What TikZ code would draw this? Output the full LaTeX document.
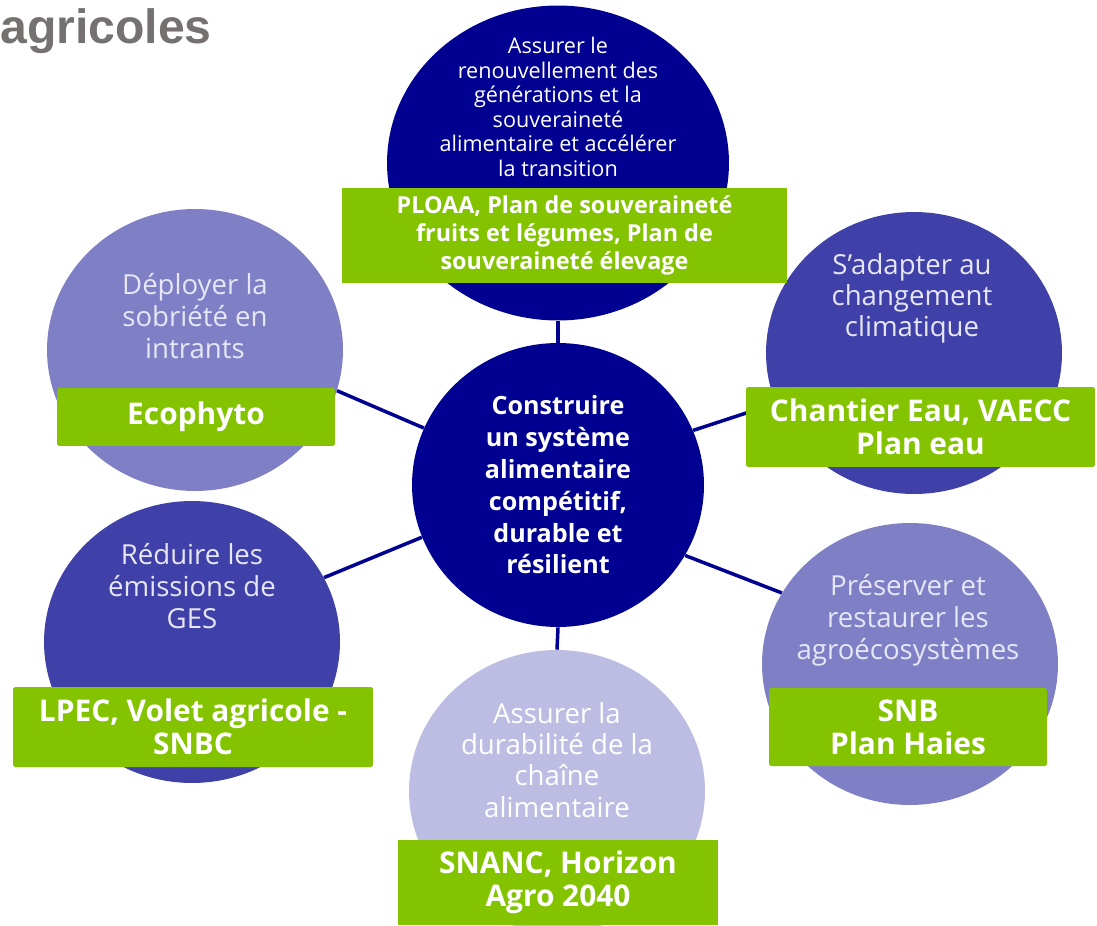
\documentclass[tikz,border=0pt]{standalone}
\usepackage{fontspec}
\setmainfont{Open Sans}
\newfontfamily\titlefont{Liberation Sans}
\usetikzlibrary{shapes.geometric}
\definecolor{navy}{HTML}{000091}
\definecolor{midblue}{HTML}{3F40A8}
\definecolor{lilac}{HTML}{7F7FC6}
\definecolor{lavender}{HTML}{BDBDE3}
\definecolor{leaf}{HTML}{84C300}
\definecolor{titlegray}{HTML}{767171}
\definecolor{paletext}{HTML}{E6E6F6}
\tikzstyle{disc}=[ellipse, minimum width=5.92cm, minimum height=5.64cm, inner sep=0]
\tikzstyle{tag}=[fill=leaf, text=white, align=center, inner sep=0, rounded corners=1pt,
                 font=\bfseries\fontsize{17}{18.7}\selectfont]
\tikzstyle{goal}=[text=paletext, align=center, inner sep=0, font=\fontsize{15.7}{18.2}\selectfont]
\tikzstyle{connect}=[line width=2pt, navy]

\begin{document}
\begin{tikzpicture}[x=0.02cm, y=-0.02cm]
  \useasboundingbox (0,0) rectangle (1097,925);

  % TITLE
  \node[anchor=base west, inner sep=0, text=titlegray,
        font=\titlefont\bfseries\fontsize{27.4}{30}\selectfont] (title) at (0,44) {agricoles};

  % CIRCLES
  \node[disc, fill=navy, minimum width=5.84cm, minimum height=5.68cm, text=white,
        align=center, font=\bfseries\fontsize{14.3}{18.1}\selectfont] (centre) at (558,485)
    {Construire\\un système\\alimentaire\\compétitif,\\durable et\\résilient};
  \node[disc, fill=navy, minimum width=6.84cm, minimum height=6.3cm] (top) at (558,163) {};
  \node[disc, fill=midblue]  (rt)  at (914,353) {};
  \node[disc, fill=lilac]    (lt)  at (195,350) {};
  \node[disc, fill=midblue]  (lb)  at (192,642) {};
  \node[disc, fill=lavender] (bot) at (557,791) {};
  \node[disc, fill=lilac]    (rb)  at (910,664) {};

  % CONNECTIONS
  \foreach \a/\n/\b in {90/top/-90, 157/lt/-16, 22/rt/-160, -29/rb/151, -90/bot/90, -159/lb/26}{
    \draw[connect] (centre.\a) -- (\n.\b);
  }

  % TAGS
  \node[tag, minimum width=8.9cm, minimum height=1.9cm, rounded corners=0pt,
        font=\bfseries\fontsize{13.3}{15.9}\selectfont] (top-tag) at (564.5,235.5)
    {PLOAA, Plan de souveraineté\\fruits et légumes, Plan de\\souveraineté élevage};
  \node[tag, minimum width=6.98cm, minimum height=1.6cm] (rt-tag) at (920.5,427)
    {Chantier Eau, VAECC\\Plan eau};
  \node[tag, minimum width=5.56cm, minimum height=1.16cm] (lt-tag) at (196,417) {Ecophyto};
  \node[tag, minimum width=7.2cm, minimum height=1.6cm] (lb-tag) at (193,727)
    {LPEC, Volet agricole -\\SNBC};
  \node[tag, minimum width=6.4cm, minimum height=1.7cm, rounded corners=0pt] (bot-tag) at (558,882.5)
    {SNANC, Horizon\\Agro 2040};
  \node[tag, minimum width=5.56cm, minimum height=1.56cm] (rb-tag) at (908,727)
    {SNB\\Plan Haies};

  % GOALS
  \node[goal, text=white, font=\fontsize{12.3}{14}\selectfont] (top-goal) at (558,107)
    {Assurer le\\renouvellement des\\générations et la\\souveraineté\\alimentaire et accélérer\\la transition};
  \node[goal, font=\fontsize{15.7}{17.6}\selectfont] (rt-goal) at (912,298)
    {S’adapter au\\changement\\climatique};
  \node[goal] (lt-goal) at (195,316) {Déployer la\\sobriété en\\intrants};
  \node[goal] (lb-goal) at (192,586) {Réduire les\\émissions de\\GES};
  \node[goal, text=white, font=\fontsize{15.7}{17.8}\selectfont] (bot-goal) at (557,760)
    {Assurer la\\durabilité de la\\chaîne\\alimentaire};
  \node[goal] (rb-goal) at (908,620) {Préserver et\\restaurer les\\agroécosystèmes};
\end{tikzpicture}
\end{document}
